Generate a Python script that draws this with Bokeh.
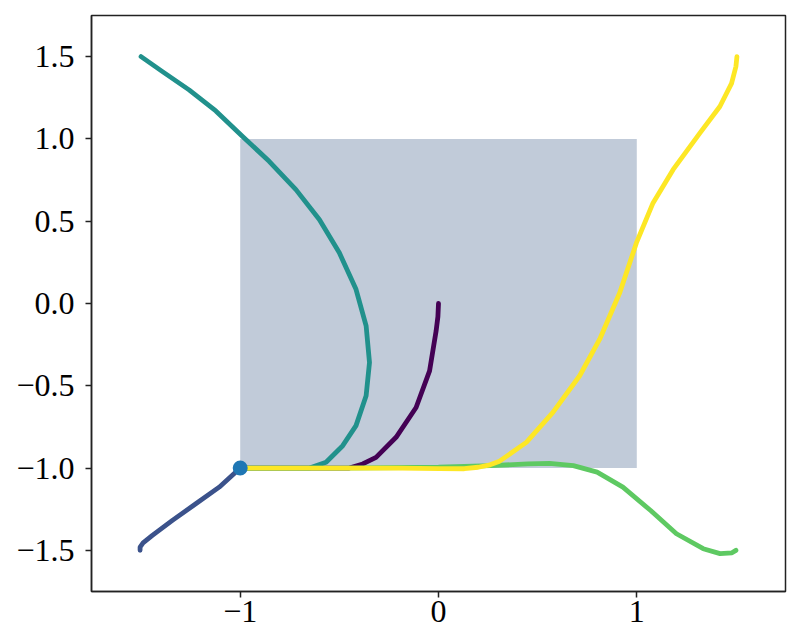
from bokeh.plotting import figure
from bokeh.models import Range1d, FixedTicker, CustomJSTickFormatter
from bokeh.embed import file_html
from bokeh.resources import INLINE

# Trajectories from start point (-1,-1) to five targets (viridis colours)
start_x = [-1.0]
start_y = [-1.0]

rect_left, rect_right, rect_bottom, rect_top = -1.0, 1.0, -1.0, 1.0

purple_x = [-1.0, -0.6, -0.45, -0.382, -0.315, -0.214, -0.113, -0.045, -0.012, -0.003, 0.0]
purple_y = [-1.0, -1.0, -1.0, -0.975, -0.935, -0.813, -0.632, -0.409, -0.167, -0.08, 0.0]

blue_x = [-1.0, -1.106, -1.224, -1.342, -1.443, -1.49, -1.505, -1.505]
blue_y = [-1.0, -1.116, -1.217, -1.318, -1.409, -1.455, -1.48, -1.5]

teal_x = [-1.0, -0.75, -0.65, -0.567, -0.483, -0.416, -0.365, -0.348, -0.365, -0.416,
          -0.5, -0.601, -0.719, -0.854, -0.988, -1.123, -1.258, -1.392, -1.5]
teal_y = [-1.0, -1.0, -1.0, -0.965, -0.864, -0.742, -0.561, -0.359, -0.136, 0.086,
          0.308, 0.510, 0.692, 0.864, 1.015, 1.170, 1.298, 1.409, 1.5]

green_x = [-1.0, -0.5, 0.0, 0.26, 0.45, 0.56, 0.68, 0.8, 0.93, 1.07, 1.2, 1.335, 1.42, 1.48, 1.5]
green_y = [-1.0, -1.0, -0.995, -0.985, -0.975, -0.971, -0.985, -1.025, -1.116, -1.258,
           -1.399, -1.49, -1.52, -1.515, -1.5]

yellow_x = [-1.0, -0.5, -0.2, 0.005, 0.13, 0.2, 0.26, 0.308, 0.443, 0.577, 0.712, 0.813, 0.914,
            0.998, 1.082, 1.183, 1.318, 1.419, 1.478, 1.5, 1.505]
yellow_y = [-1.0, -1.0, -1.0, -1.003, -1.004, -0.995, -0.98, -0.958, -0.844, -0.662, -0.439,
            -0.217, 0.065, 0.368, 0.611, 0.813, 1.035, 1.197, 1.338, 1.44, 1.5]

series = [
    (purple_x, purple_y, "#440154"),
    (blue_x, blue_y, "#3b528b"),
    (teal_x, teal_y, "#21918c"),
    (green_x, green_y, "#5ec962"),
    (yellow_x, yellow_y, "#fde725"),
]

x_ticks = [-1, 0, 1]
y_ticks = [-1.5, -1.0, -0.5, 0.0, 0.5, 1.0, 1.5]

p = figure(output_backend="svg", toolbar_location=None,
           frame_width=694, frame_height=576,
           x_range=Range1d(-1.75, 1.75), y_range=Range1d(-1.75, 1.75),
           min_border_left=91, min_border_top=15, min_border_right=7, min_border_bottom=44)
p.background_fill_color = "white"
p.border_fill_color = "white"
p.grid.visible = False
p.outline_line_color = "#222222"
p.outline_line_width = 1.5

p.quad(left=[rect_left], right=[rect_right], bottom=[rect_bottom], top=[rect_top],
       fill_color="#c1cbd9", line_color=None)

for xs, ys, c in series:
    p.line(xs, ys, line_color=c, line_width=4.8, line_cap="round", line_join="round")

p.scatter(start_x, start_y, size=15, fill_color="#1f77b4", line_color=None)

p.xaxis.ticker = FixedTicker(ticks=x_ticks)
p.yaxis.ticker = FixedTicker(ticks=y_ticks)
p.xaxis.formatter = CustomJSTickFormatter(
    code="return (tick < 0 ? '\u2212' : '') + Math.abs(tick).toFixed(0);")
p.yaxis.formatter = CustomJSTickFormatter(
    code="return (tick < 0 ? '\u2212' : '') + Math.abs(tick).toFixed(1);")

for ax in (p.xaxis, p.yaxis):
    ax.major_label_text_font = "Liberation Serif"
    ax.major_label_text_font_size = "32px"
    ax.major_label_text_color = "black"
    ax.major_tick_in = 0
    ax.major_tick_out = 6
    ax.major_tick_line_color = "#222222"
    ax.major_tick_line_width = 1.5
    ax.minor_tick_line_color = None
    ax.axis_line_color = "#222222"
    ax.axis_line_width = 1.5
p.yaxis.major_label_standoff = 11
p.xaxis.major_label_standoff = 3

open("out.html", "w").write(file_html(p, INLINE))
